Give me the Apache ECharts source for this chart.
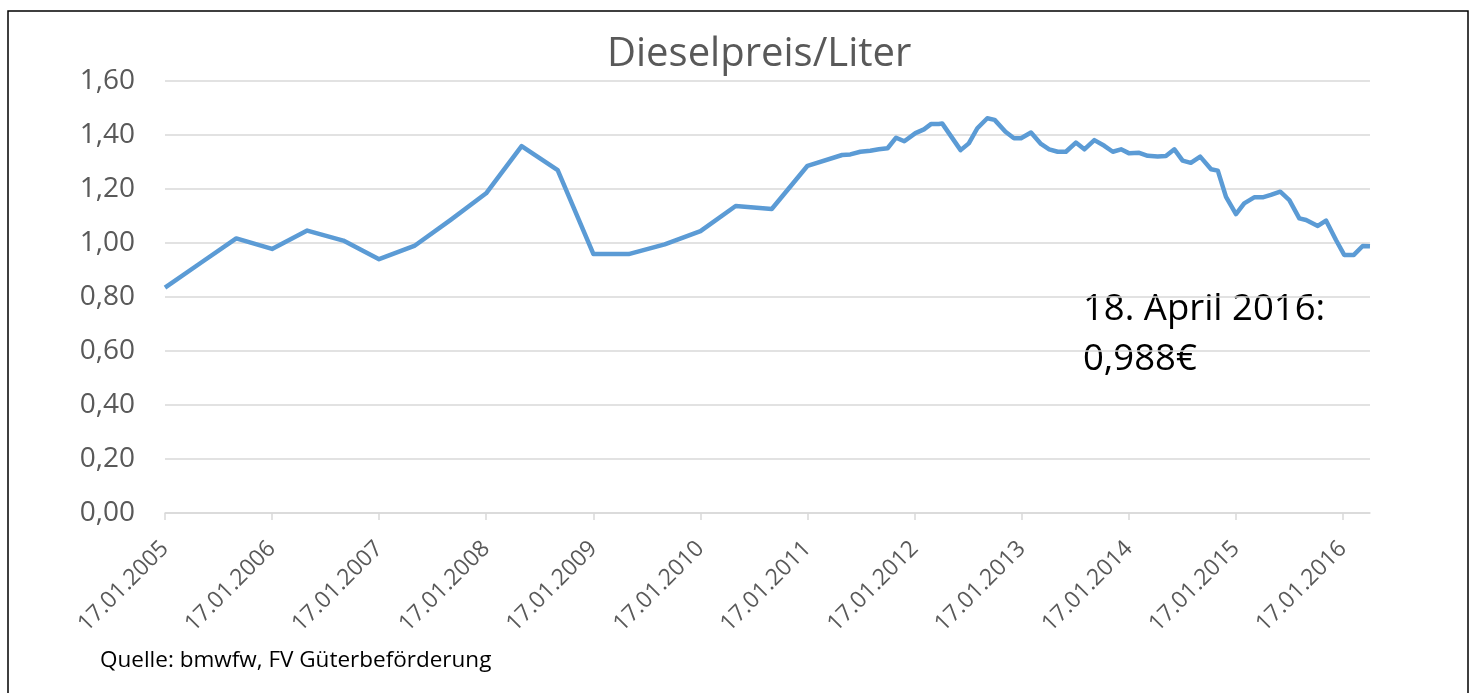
<!DOCTYPE html>
<html>
<head>
<meta charset="utf-8">
<script src="https://cdn.jsdelivr.net/npm/echarts@6/dist/echarts.min.js"></script>
<style>
  html, body { margin: 0; padding: 0; background: #fff; }
  #chart { width: 1470px; height: 693px; }
</style>
</head>
<body>
<div id="chart"></div>
<script>
  // Datum der Messpunkte
  const dates = [
    '2005-01-17', '2005-05-17', '2005-09-17', '2006-01-17', '2006-05-17', '2006-09-17',
    '2007-01-17', '2007-05-17', '2007-09-17', '2008-01-17', '2008-05-17', '2008-09-17',
    '2009-01-17', '2009-05-17', '2009-09-17', '2010-01-17', '2010-05-17', '2010-09-17',
    '2011-01-17', '2011-05-15', '2011-06-12', '2011-07-16', '2011-08-19', '2011-09-17',
    '2011-10-17', '2011-11-15', '2011-12-13', '2012-01-20', '2012-02-18', '2012-03-14',
    '2012-04-09', '2012-04-20', '2012-06-22', '2012-07-20', '2012-08-18', '2012-09-21',
    '2012-10-16', '2012-11-22', '2012-12-21', '2013-01-14', '2013-02-17', '2013-03-23',
    '2013-04-20', '2013-05-19', '2013-06-16', '2013-07-20', '2013-08-18', '2013-09-21',
    '2013-10-25', '2013-11-23', '2013-12-21', '2014-01-18', '2014-02-21', '2014-03-22',
    '2014-04-25', '2014-05-23', '2014-06-21', '2014-07-19', '2014-08-16', '2014-09-17',
    '2014-10-24', '2014-11-16', '2014-12-14', '2015-01-17', '2015-02-14', '2015-03-20',
    '2015-04-18', '2015-05-16', '2015-06-17', '2015-07-18', '2015-08-21', '2015-09-13',
    '2015-10-23', '2015-11-20', '2015-12-24', '2016-01-21', '2016-02-23', '2016-03-24',
    '2016-04-18'
  ];
  // Dieselpreis in Euro pro Liter
  const prices = [
    0.835, 0.925, 1.017, 0.978, 1.046, 1.009,
    0.940, 0.989, 1.085, 1.184, 1.359, 1.270,
    0.959, 0.959, 0.995, 1.044, 1.137, 1.126,
    1.286, 1.326, 1.328, 1.338, 1.342, 1.347,
    1.351, 1.390, 1.377, 1.407, 1.421, 1.441,
    1.441, 1.443, 1.344, 1.369, 1.425, 1.462,
    1.456, 1.412, 1.388, 1.388, 1.409, 1.367,
    1.347, 1.338, 1.338, 1.372, 1.347, 1.381,
    1.360, 1.338, 1.347, 1.332, 1.334, 1.323,
    1.320, 1.322, 1.347, 1.305, 1.297, 1.320,
    1.273, 1.268, 1.171, 1.107, 1.147, 1.169,
    1.169, 1.178, 1.190, 1.159, 1.091, 1.085,
    1.063, 1.083, 1.011, 0.956, 0.956, 0.989,
    0.988
  ];
  // Achsenbeschriftung: jedes Jahr am 17.01.
  const tickDates = [
    '2005-01-17', '2006-01-17', '2007-01-17', '2008-01-17', '2009-01-17', '2010-01-17',
    '2011-01-17', '2012-01-17', '2013-01-17', '2014-01-17', '2015-01-17', '2016-01-17'
  ];
  const yTicks = [0, 0.2, 0.4, 0.6, 0.8, 1.0, 1.2, 1.4, 1.6];

  const toTs = d => Date.parse(d + 'T00:00:00Z');
  const tickValues = tickDates.map(toTs);
  const seriesData = dates.map((d, i) => [toTs(d), prices[i]]);

  const pad = n => (n < 10 ? '0' : '') + n;
  const fmtDate = v => {
    const d = new Date(v);
    return pad(d.getUTCDate()) + '.' + pad(d.getUTCMonth() + 1) + '.' + d.getUTCFullYear();
  };

  const grey = '#595959';
  const font = '"Open Sans", sans-serif';

  var myChart = echarts.init(document.getElementById('chart'));
  myChart.setOption({
    animation: false,
    backgroundColor: '#fff',
    title: {
      text: 'Dieselpreis/Liter',
      left: 602,
      top: 30,
      textStyle: { fontSize: 40, fontWeight: 'normal', color: grey, fontFamily: font }
    },
    grid: { left: 165, right: 100, top: 81, bottom: 180 },
    xAxis: {
      type: 'value',
      min: toTs('2005-01-17'),
      max: toTs('2016-04-18'),
      splitLine: { show: false },
      axisLine: { show: true, lineStyle: { color: '#d9d9d9', width: 1.5 } },
      axisTick: { show: true, length: 7, customValues: tickValues, lineStyle: { color: '#d9d9d9', width: 1.5 } },
      axisLabel: {
        customValues: tickValues,
        rotate: 45,
        margin: 32,
        color: grey,
        fontSize: 23,
        fontFamily: font,
        formatter: v => fmtDate(v)
      }
    },
    yAxis: {
      type: 'value',
      min: 0,
      max: 1.6,
      interval: 0.2,
      axisLine: { show: false },
      axisTick: { show: false },
      splitLine: { lineStyle: { color: '#d9d9d9', width: 1.5 } },
      axisLabel: {
        customValues: yTicks,
        margin: 30,
        color: grey,
        fontSize: 28,
        fontFamily: font,
        formatter: v => v.toFixed(2).replace('.', ',')
      }
    },
    series: [
      {
        type: 'line',
        data: seriesData,
        showSymbol: false,
        lineStyle: { color: '#5b9bd5', width: 4.5, join: 'round' },
        itemStyle: { color: '#5b9bd5' }
      }
    ],
    graphic: [
      {
        type: 'rect',
        shape: { x: 8, y: 11, width: 1460, height: 700 },
        style: { fill: 'none', stroke: '#000', lineWidth: 1.5 },
        silent: true
      },
      {
        type: 'text',
        left: 1083,
        top: 285,
        style: { text: '18. April 2016:\n0,988€', fill: '#000', fontSize: 36.5, lineHeight: 50, fontFamily: font }
      },
      {
        type: 'text',
        left: 100,
        top: 649,
        style: { text: 'Quelle: bmwfw, FV Güterbeförderung', fill: '#000', fontSize: 22.5, fontFamily: font }
      }
    ]
  });
</script>
</body>
</html>
